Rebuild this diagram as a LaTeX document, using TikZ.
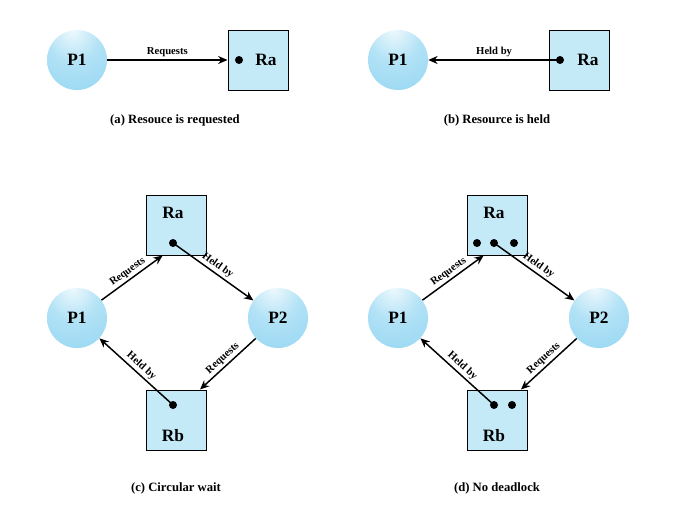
\documentclass[tikz,border=0pt]{standalone}
\usepackage{fontspec}
\setmainfont{Liberation Serif}
\usetikzlibrary{arrows.meta}

\definecolor{procout}{HTML}{7ECDEF}
\definecolor{procmid}{HTML}{B2E2F6}
\definecolor{reslight}{HTML}{C4EAF8}
\pgfdeclareradialshading{procball}{\pgfpoint{-4bp}{26bp}}{%
  color(0bp)=(white!80!procmid); color(22bp)=(procmid);
  color(70bp)=(procout); color(100bp)=(procout)}

\begin{document}
\begin{tikzpicture}[x=0.75pt, y=-0.75pt,
    proc/.style={circle, minimum size=45pt, inner sep=0pt, shading=procball, font=\bfseries\fontsize{13}{13}\selectfont},
    res/.style={draw, line width=0.75pt, fill=reslight, minimum size=45pt, inner sep=0pt, font=\bfseries\fontsize{13}{13}\selectfont},
    unit/.style={circle, fill, inner sep=0pt, minimum size=6pt},
    edge/.style={line width=1.1pt, -{Stealth[length=7pt, width=6pt]}},
    lbl/.style={font=\bfseries\fontsize{8}{8}\selectfont, inner sep=1.5pt},
    captext/.style={font=\bfseries\fontsize{9.5}{9.5}\selectfont}]
  \useasboundingbox (0,0) rectangle (683,514);

  % (a)
  \node[proc] (P1a) at (77,60) {P1};
  \node[res] (Raa) at (258,60) {};
  \node[unit] (ua) at (239,60) {};
  \node[font=\bfseries\fontsize{13}{13}\selectfont] at (266,60) {Ra};
  \draw[edge] (P1a) -- node[lbl, above] {Requests} (Raa);
  \node[captext] (capa) at (175,120) {(a) Resouce is requested};

  % (b)
  \node[proc] (P1b) at (398,60) {P1};
  \node[res] (Rab) at (579,60) {};
  \node[unit] (ub) at (560,60) {};
  \node[font=\bfseries\fontsize{13}{13}\selectfont] at (588,60) {Ra};
  \draw[edge] (ub.center) -- node[lbl, above] {Held by} (P1b);
  \node[captext] (capb) at (497,120) {(b) Resource is held};

  % (c)
  \node[proc] (P1c) at (77,318) {P1};
  \node[proc] (P2c) at (278,318) {P2};
  \node[res] (Rac) at (176,225) {};
  \node[res] (Rbc) at (176,420) {};
  \node at (173,213) {\bfseries\fontsize{13}{13}\selectfont Ra};
  \node at (173,436) {\bfseries\fontsize{13}{13}\selectfont Rb};
  \node[unit] (uac) at (173,243) {};
  \node[unit] (ubc) at (173,405) {};
  \draw[edge] (P1c) -- node[lbl, above, sloped] {Requests} ([xshift=-10pt]Rac.south);
  \draw[edge] (uac.center) -- node[lbl, above, sloped] {Held by} (P2c);
  \draw[edge] (P2c) -- node[lbl, above, sloped] {Requests} ([xshift=18pt]Rbc.north);
  \draw[edge] (ubc.center) -- node[lbl, above, sloped] {Held by} (P1c);
  \node[captext] (capc) at (176,488) {(c) Circular wait};

  % (d)
  \node[proc] (P1d) at (398,318) {P1};
  \node[proc] (P2d) at (599,318) {P2};
  \node[res] (Rad) at (497,225) {};
  \node[res] (Rbd) at (497,420) {};
  \node at (494,213) {\bfseries\fontsize{13}{13}\selectfont Ra};
  \node at (494,436) {\bfseries\fontsize{13}{13}\selectfont Rb};
  \foreach \x [count=\i] in {477, 494, 514} {
    \node[unit] (uad\i) at (\x,243) {};
  }
  \foreach \x [count=\i] in {494, 512} {
    \node[unit] (ubd\i) at (\x,405) {};
  }
  \draw[edge] (P1d) -- node[lbl, above, sloped] {Requests} ([xshift=-10pt]Rad.south);
  \draw[edge] (uad2.center) -- node[lbl, above, sloped] {Held by} (P2d);
  \draw[edge] (P2d) -- node[lbl, above, sloped] {Requests} ([xshift=18pt]Rbd.north);
  \draw[edge] (ubd1.center) -- node[lbl, above, sloped] {Held by} (P1d);
  \node[captext] (capd) at (497,488) {(d) No deadlock};
\end{tikzpicture}
\end{document}
